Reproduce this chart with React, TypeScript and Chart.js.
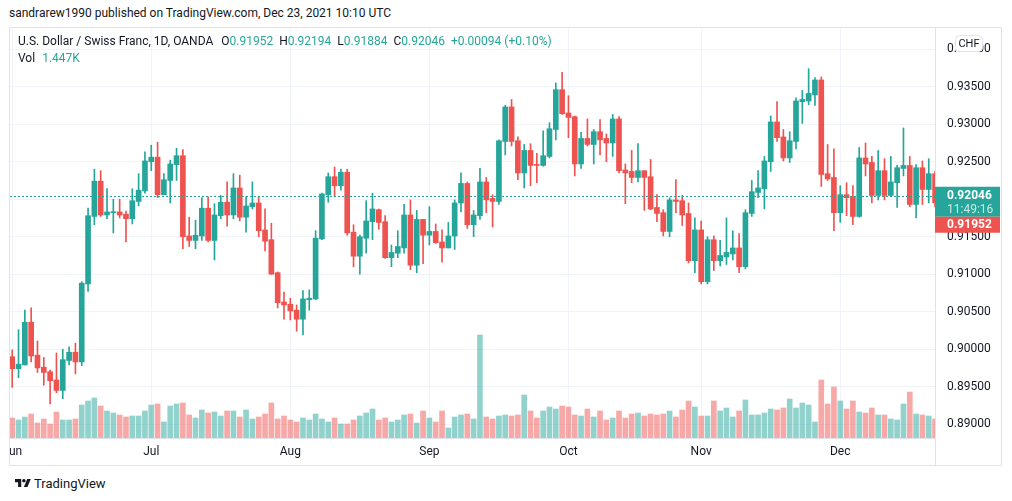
import React, { useEffect, useRef } from 'react';
import { Chart, registerables } from 'chart.js';

Chart.register(...registerables);

// Daily USD/CHF candles, Jun 1 2021 (index 0) .. Dec 23 2021 (index 147), weekdays only
const OPEN = [
  0.8990, 0.8974, 0.8979, 0.9036, 0.8992, 0.8976, 0.8970, 0.8959, 0.8945, 0.8985,
  0.8996, 0.8983, 0.9087, 0.9177, 0.9224, 0.9179, 0.9182, 0.9183, 0.9180, 0.9174,
  0.9197, 0.9211, 0.9250, 0.9256, 0.9206, 0.9225, 0.9246, 0.9258, 0.9151, 0.9145,
  0.9151, 0.9188, 0.9145, 0.9178, 0.9196, 0.9179, 0.9215, 0.9176, 0.9190, 0.9195,
  0.9159, 0.9146, 0.9102, 0.9063, 0.9060, 0.9052, 0.9040, 0.9066, 0.9067, 0.9147,
  0.9206, 0.9230, 0.9218, 0.9236, 0.9156, 0.9124, 0.9148, 0.9170, 0.9186, 0.9170,
  0.9122, 0.9128, 0.9135, 0.9179, 0.9112, 0.9173, 0.9152, 0.9157, 0.9143, 0.9135,
  0.9151, 0.9195, 0.9221, 0.9166, 0.9178, 0.9223, 0.9201, 0.9197, 0.9277, 0.9323,
  0.9278, 0.9235, 0.9265, 0.9246, 0.9245, 0.9257, 0.9293, 0.9346, 0.9315, 0.9310,
  0.9247, 0.9281, 0.9273, 0.9290, 0.9281, 0.9275, 0.9307, 0.9239, 0.9237, 0.9229,
  0.9238, 0.9230, 0.9189, 0.9182, 0.9157, 0.9199, 0.9198, 0.9181, 0.9118, 0.9159,
  0.9090, 0.9146, 0.9118, 0.9123, 0.9127, 0.9135, 0.9110, 0.9181, 0.9209, 0.9214,
  0.9250, 0.9303, 0.9283, 0.9255, 0.9277, 0.9330, 0.9331, 0.9339, 0.9359, 0.9234,
  0.9229, 0.9182, 0.9206, 0.9203, 0.9177, 0.9255, 0.9249, 0.9205, 0.9238, 0.9205,
  0.9222, 0.9241, 0.9245, 0.9193, 0.9242, 0.9213, 0.9234, 0.91952,
];
const HIGH = [
  0.8999, 0.9026, 0.9052, 0.9055, 0.9011, 0.8989, 0.8972, 0.8995, 0.9000, 0.9003,
  0.9008, 0.9090, 0.9188, 0.9240, 0.9238, 0.9214, 0.9200, 0.9200, 0.9184, 0.9214,
  0.9234, 0.9263, 0.9272, 0.9276, 0.9234, 0.9252, 0.9268, 0.9266, 0.9176, 0.9172,
  0.9202, 0.9203, 0.9194, 0.9205, 0.9223, 0.9234, 0.9232, 0.9203, 0.9223, 0.9204,
  0.9187, 0.9168, 0.9103, 0.9076, 0.9068, 0.9059, 0.9078, 0.9079, 0.9158, 0.9208,
  0.9235, 0.9243, 0.9240, 0.9240, 0.9166, 0.9152, 0.9198, 0.9208, 0.9187, 0.9178,
  0.9139, 0.9158, 0.9193, 0.9199, 0.9185, 0.9173, 0.9190, 0.9167, 0.9159, 0.9169,
  0.9199, 0.9235, 0.9223, 0.9185, 0.9241, 0.9229, 0.9206, 0.9279, 0.9325, 0.9333,
  0.9283, 0.9273, 0.9274, 0.9261, 0.9291, 0.9302, 0.9355, 0.9369, 0.9338, 0.9311,
  0.9289, 0.9307, 0.9293, 0.9306, 0.9287, 0.9313, 0.9310, 0.9247, 0.9265, 0.9274,
  0.9238, 0.9253, 0.9206, 0.9186, 0.9202, 0.9226, 0.9205, 0.9195, 0.9175, 0.9171,
  0.9150, 0.9151, 0.9145, 0.9175, 0.9158, 0.9154, 0.9186, 0.9225, 0.9238, 0.9257,
  0.9311, 0.9330, 0.9293, 0.9290, 0.9335, 0.9345, 0.9374, 0.9362, 0.9363, 0.9273,
  0.9267, 0.9218, 0.9222, 0.9218, 0.9269, 0.9275, 0.9257, 0.9265, 0.9254, 0.9257,
  0.9245, 0.9295, 0.9257, 0.9246, 0.9251, 0.9254, 0.9237, 0.92194,
];
const LOW = [
  0.8949, 0.8962, 0.8979, 0.8983, 0.8969, 0.8952, 0.8927, 0.8942, 0.8934, 0.8979,
  0.8967, 0.8978, 0.9077, 0.9166, 0.9177, 0.9174, 0.9155, 0.9175, 0.9143, 0.9167,
  0.9191, 0.9208, 0.9238, 0.9202, 0.9206, 0.9195, 0.9225, 0.9134, 0.9137, 0.9134,
  0.9145, 0.9143, 0.9119, 0.9174, 0.9164, 0.9174, 0.9171, 0.9156, 0.9187, 0.9150,
  0.9131, 0.9100, 0.9055, 0.9040, 0.9039, 0.9024, 0.9019, 0.9052, 0.9066, 0.9146,
  0.9196, 0.9203, 0.9212, 0.9152, 0.9110, 0.9100, 0.9128, 0.9146, 0.9160, 0.9121,
  0.9110, 0.9122, 0.9128, 0.9106, 0.9102, 0.9114, 0.9139, 0.9141, 0.9116, 0.9135,
  0.9133, 0.9183, 0.9161, 0.9150, 0.9173, 0.9182, 0.9163, 0.9193, 0.9259, 0.9271,
  0.9226, 0.9215, 0.9218, 0.9222, 0.9244, 0.9255, 0.9279, 0.9313, 0.9282, 0.9231,
  0.9241, 0.9271, 0.9247, 0.9259, 0.9250, 0.9257, 0.9235, 0.9194, 0.9222, 0.9223,
  0.9185, 0.9186, 0.9170, 0.9151, 0.9150, 0.9182, 0.9165, 0.9115, 0.9102, 0.9087,
  0.9087, 0.9105, 0.9111, 0.9113, 0.9119, 0.9102, 0.9107, 0.9177, 0.9202, 0.9187,
  0.9237, 0.9277, 0.9251, 0.9249, 0.9267, 0.9301, 0.9326, 0.9325, 0.9217, 0.9225,
  0.9158, 0.9169, 0.9178, 0.9166, 0.9176, 0.9231, 0.9195, 0.9199, 0.9199, 0.9203,
  0.9189, 0.9231, 0.9190, 0.9175, 0.9193, 0.9195, 0.9190, 0.91884,
];
const CLOSE = [
  0.8974, 0.8980, 0.9036, 0.8991, 0.8975, 0.8969, 0.8958, 0.8945, 0.8986, 0.8996,
  0.8983, 0.9088, 0.9178, 0.9224, 0.9179, 0.9183, 0.9183, 0.9179, 0.9174, 0.9198,
  0.9212, 0.9251, 0.9256, 0.9206, 0.9226, 0.9247, 0.9258, 0.9150, 0.9145, 0.9152,
  0.9188, 0.9145, 0.9179, 0.9196, 0.9179, 0.9215, 0.9176, 0.9191, 0.9195, 0.9158,
  0.9144, 0.9100, 0.9062, 0.9059, 0.9051, 0.9040, 0.9067, 0.9068, 0.9148, 0.9207,
  0.9230, 0.9218, 0.9236, 0.9155, 0.9124, 0.9150, 0.9171, 0.9187, 0.9169, 0.9122,
  0.9129, 0.9137, 0.9179, 0.9112, 0.9173, 0.9152, 0.9157, 0.9142, 0.9135, 0.9151,
  0.9195, 0.9221, 0.9166, 0.9179, 0.9223, 0.9199, 0.9197, 0.9278, 0.9323, 0.9277,
  0.9235, 0.9265, 0.9245, 0.9245, 0.9258, 0.9294, 0.9346, 0.9314, 0.9309, 0.9247,
  0.9281, 0.9273, 0.9290, 0.9279, 0.9275, 0.9307, 0.9238, 0.9235, 0.9229, 0.9238,
  0.9229, 0.9187, 0.9181, 0.9157, 0.9199, 0.9197, 0.9179, 0.9118, 0.9159, 0.9090,
  0.9146, 0.9118, 0.9125, 0.9129, 0.9135, 0.9110, 0.9182, 0.9210, 0.9215, 0.9251,
  0.9303, 0.9282, 0.9255, 0.9278, 0.9331, 0.9333, 0.9341, 0.9359, 0.9233, 0.9227,
  0.9182, 0.9206, 0.9202, 0.9177, 0.9255, 0.9247, 0.9205, 0.9238, 0.9205, 0.9223,
  0.9242, 0.9245, 0.9193, 0.9242, 0.9213, 0.9234, 0.91952, 0.92046,
];
// Volume, relative units (last bar = 1.447K)
const VOLUME = [
  20, 18, 21, 24, 15, 19, 14, 26, 18, 18,
  19, 33, 37, 40, 32, 27, 25, 23, 21, 22,
  22, 27, 33, 34, 16, 32, 34, 35, 23, 20,
  28, 25, 26, 22, 27, 27, 21, 28, 19, 21,
  24, 35, 19, 22, 18, 16, 20, 18, 24, 19,
  16, 20, 14, 14, 18, 22, 25, 29, 18, 20,
  16, 18, 23, 24, 15, 27, 20, 16, 27, 10,
  21, 23, 24, 19, 103, 21, 19, 22, 23, 22,
  23, 43, 27, 20, 27, 31, 29, 32, 31, 23,
  22, 29, 21, 27, 18, 20, 27, 20, 24, 25,
  22, 24, 23, 24, 27, 21, 28, 37, 31, 22,
  22, 37, 27, 30, 21, 27, 38, 23, 23, 25,
  29, 28, 30, 39, 30, 35, 33, 16, 58, 34,
  51, 37, 29, 37, 26, 25, 30, 23, 23, 19,
  18, 34, 46, 24, 23, 22, 19, 19,
];
const MONTH_INDEX = [0, 22, 44, 66, 88, 109, 131];
const MONTH_LABELS = ['Jun', 'Jul', 'Aug', 'Sep', 'Oct', 'Nov', 'Dec'];
const PRICE_MIN = 0.88816;
const PRICE_MAX = 0.942827;
const PRICE_STEP = 0.005;
const X_MIN = -0.348;
const X_MAX = 145.99;
const VOL_MAX = 410;

const LAST_OPEN = 0.91952;
const LAST_HIGH = 0.92194;
const LAST_LOW = 0.91884;
const LAST_CLOSE = 0.92046;
const LAST_CHANGE = '+0.00094 (+0.10%)';
const LAST_VOL = '1.447K';
const COUNTDOWN = '11:49:16';

const GREEN = '#26a69a';
const RED = '#ef5350';
const VGREEN = 'rgba(38,166,154,0.5)';
const VRED = 'rgba(239,83,80,0.5)';
const GRID = '#f0f3fa';
const BORDER = '#e0e3eb';
const TEXT = '#131722';
const FONT = 'Roboto, "Liberation Sans", sans-serif';

const overlayPlugin = {
  id: 'overlay',
  afterDatasetsDraw(chart: any) {
    const { ctx, chartArea, scales } = chart;
    const y = scales.y;
    const H = chart.height;
    ctx.save();
    const yp = Math.round(y.getPixelForValue(LAST_CLOSE)) + 0.5;
    ctx.strokeStyle = GREEN;
    ctx.lineWidth = 1;
    ctx.setLineDash([2, 2]);
    ctx.beginPath();
    ctx.moveTo(Math.round(chartArea.left), yp);
    ctx.lineTo(Math.round(chartArea.right), yp);
    ctx.stroke();
    ctx.setLineDash([]);
    ctx.strokeStyle = BORDER;
    ctx.beginPath();
    ctx.moveTo(Math.round(chartArea.right) + 0.5, chartArea.bottom);
    ctx.lineTo(Math.round(chartArea.right) + 0.5, H);
    ctx.stroke();
    ctx.restore();
  },
  afterDraw(chart: any) {
    const { ctx, chartArea, scales } = chart;
    const y = scales.y;
    const W = chart.width;
    const left = Math.round(chartArea.right);
    const right = W - 1;
    ctx.save();
    const yc = y.getPixelForValue(LAST_CLOSE);
    const gTop = yc - 9;
    const gBot = gTop + 30;
    ctx.fillStyle = GREEN;
    ctx.fillRect(left, gTop, right - left, gBot - gTop);
    ctx.fillStyle = RED;
    ctx.fillRect(left, gBot, right - left, 16);
    ctx.textBaseline = 'middle';
    ctx.textAlign = 'left';
    ctx.font = 'bold 12px ' + FONT;
    ctx.fillStyle = '#ffffff';
    ctx.fillText(LAST_CLOSE.toFixed(5), left + 12, yc + 0.5);
    ctx.font = '12px ' + FONT;
    ctx.fillStyle = 'rgba(255,255,255,0.75)';
    ctx.fillText(COUNTDOWN, left + 12, yc + 14);
    ctx.font = 'bold 12px ' + FONT;
    ctx.fillStyle = '#ffffff';
    ctx.fillText(LAST_OPEN.toFixed(5), left + 12, gBot + 8.5);
    const bx = left + 20.5;
    const by = 7.5;
    const bw = 27;
    const bh = 16;
    ctx.fillStyle = '#ffffff';
    ctx.strokeStyle = BORDER;
    ctx.lineWidth = 1;
    ctx.beginPath();
    (ctx as any).roundRect(bx, by, bw, bh, 4);
    ctx.fill();
    ctx.stroke();
    ctx.fillStyle = TEXT;
    ctx.font = '11px ' + FONT;
    ctx.textAlign = 'center';
    ctx.fillText('CHF', bx + bw / 2, by + bh / 2 + 0.5);
    ctx.restore();
  },
};

export default function App() {
  const ref = useRef<HTMLCanvasElement>(null);
  useEffect(() => {
    document.body.style.margin = '0';
    const idx = OPEN.map((_, i) => i);
    const up = idx.map((i) => CLOSE[i] >= OPEN[i]);
    const chart = new Chart(ref.current as HTMLCanvasElement, {
      type: 'bar',
      data: {
        datasets: [
          {
            label: 'body',
            data: idx.map((i) => ({ x: i, y: [OPEN[i], CLOSE[i]] })) as any,
            backgroundColor: idx.map((i) => (up[i] ? GREEN : RED)),
            barThickness: 5,
            minBarLength: 1,
            grouped: false,
            order: 0,
            yAxisID: 'y',
            clip: 0,
          } as any,
          {
            label: 'wick',
            data: idx.map((i) => ({ x: i, y: [LOW[i], HIGH[i]] })) as any,
            backgroundColor: idx.map((i) => (up[i] ? GREEN : RED)),
            barThickness: 1,
            grouped: false,
            order: 1,
            yAxisID: 'y',
            clip: 0,
          } as any,
          {
            label: 'volume',
            data: idx.map((i) => ({ x: i, y: VOLUME[i] })) as any,
            backgroundColor: idx.map((i) => (up[i] ? VGREEN : VRED)),
            barThickness: 5,
            grouped: false,
            order: 2,
            yAxisID: 'yv',
            clip: 0,
          } as any,
        ],
      },
      options: {
        animation: false,
        responsive: false,
        devicePixelRatio: 1,
        layout: { padding: 0 },
        plugins: { legend: { display: false }, tooltip: { enabled: false } },
        scales: {
          x: {
            type: 'linear',
            offset: false,
            min: X_MIN,
            max: X_MAX,
            afterBuildTicks: (scale: any) => {
              scale.ticks = MONTH_INDEX.map((v) => ({ value: v }));
            },
            afterFit: (scale: any) => {
              scale.height = 27;
              scale.paddingLeft = 0;
              scale.paddingRight = 0;
            },
            grid: { color: GRID, drawTicks: false, offset: false },
            border: { display: true, color: BORDER },
            ticks: {
              autoSkip: false,
              maxRotation: 0,
              padding: 7,
              color: TEXT,
              font: { family: FONT, size: 12 },
              callback: (v: any) => MONTH_LABELS[MONTH_INDEX.indexOf(Number(v))] ?? '',
            },
          },
          y: {
            type: 'linear',
            position: 'right',
            min: PRICE_MIN,
            max: PRICE_MAX,
            afterFit: (scale: any) => {
              scale.width = 66;
              scale.paddingTop = 0;
              scale.paddingBottom = 0;
            },
            grid: { color: GRID, drawTicks: false },
            border: { display: true, color: BORDER },
            ticks: {
              stepSize: PRICE_STEP,
              includeBounds: false,
              autoSkip: false,
              padding: 12,
              color: TEXT,
              font: { family: FONT, size: 12 },
              callback: (v: any) => Number(v).toFixed(5),
            },
          },
          yv: {
            type: 'linear',
            display: false,
            min: 0,
            max: VOL_MAX,
          },
        },
      } as any,
      plugins: [overlayPlugin],
    });
    return () => chart.destroy();
  }, []);

  const val = { color: GREEN };
  return (
    <div style={{ position: 'relative', width: 1012, height: 501, background: '#fff', fontFamily: FONT, color: TEXT }}>
      <div style={{ position: 'absolute', left: 9, top: 6, fontSize: 12, color: '#131722', whiteSpace: 'nowrap' }}>
        sandrarew1990 published on TradingView.com, Dec 23, 2021 10:10 UTC
      </div>
      <div style={{ position: 'absolute', left: 9, top: 27, width: 993, height: 439, boxSizing: 'border-box', border: '1px solid ' + BORDER }} />
      <canvas ref={ref} width={991} height={437} style={{ position: 'absolute', left: 10, top: 28, width: 991, height: 437 }} />
      <div style={{ position: 'absolute', left: 18, top: 33, fontSize: 12, whiteSpace: 'nowrap', lineHeight: '16px' }}>
        <span>U.S. Dollar / Swiss Franc, 1D, OANDA</span>
        <span style={{ marginLeft: 8 }}>O</span><span style={val}>{LAST_OPEN.toFixed(5)}</span>
        <span style={{ marginLeft: 6 }}>H</span><span style={val}>{LAST_HIGH.toFixed(5)}</span>
        <span style={{ marginLeft: 6 }}>L</span><span style={val}>{LAST_LOW.toFixed(5)}</span>
        <span style={{ marginLeft: 6 }}>C</span><span style={val}>{LAST_CLOSE.toFixed(5)}</span>
        <span style={{ marginLeft: 6, color: GREEN }}>{LAST_CHANGE}</span>
      </div>
      <div style={{ position: 'absolute', left: 18, top: 50, fontSize: 12, whiteSpace: 'nowrap', lineHeight: '16px' }}>
        <span>Vol</span><span style={{ marginLeft: 7, color: GREEN }}>{LAST_VOL}</span>
      </div>
      <div style={{ position: 'absolute', left: 15, top: 476, display: 'flex', alignItems: 'center', fontSize: 13, color: '#131722' }}>
        <svg width={16} height={13} viewBox="0 0 36 28" style={{ marginRight: 3 }}>
          <path d="M14 22H7V11H0V4h14v18zM28 22h-8l7.5-18h8L28 22z" fill="#131722" />
          <circle cx="20" cy="8" r="4" fill="#131722" />
        </svg>
        <span>TradingView</span>
      </div>
    </div>
  );
}
